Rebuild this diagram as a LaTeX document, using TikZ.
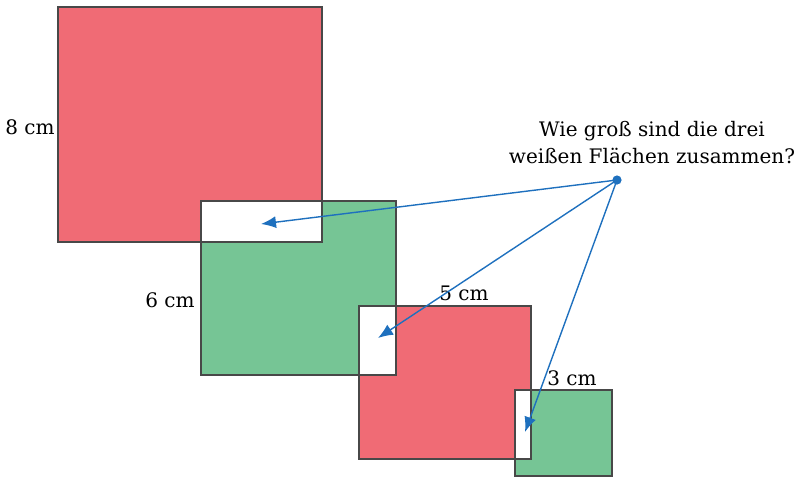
\documentclass[tikz,border=0pt]{standalone}
\usepackage{fontspec}
\setmainfont{DejaVu Serif}
\usetikzlibrary{arrows.meta}
\definecolor{sqred}{RGB}{240,107,117}
\definecolor{sqgreen}{RGB}{118,197,149}
\definecolor{arrowblue}{RGB}{30,112,190}
\definecolor{edgegray}{RGB}{72,72,72}

\begin{document}
\begin{tikzpicture}[x=0.5pt,y=-0.5pt,
  square/.style={draw=edgegray,line width=1pt},
  pointer/.style={arrowblue,line width=0.7pt,-{Latex[length=7.5pt,width=6pt]}},
  lbl/.style={font=\fontsize{10}{13.5}\selectfont,inner sep=1pt}]
\useasboundingbox (0,0) rectangle (800,478);
% Big red square (8 cm)
\filldraw[square,fill=sqred] (58,7) rectangle (322,242);
% Green square (6 cm) and its white overlap
\filldraw[square,fill=sqgreen] (201,201) rectangle (396,375);
\filldraw[square,fill=white] (201,201) rectangle (322,242);
% Small red square (5 cm) and its white overlap
\filldraw[square,fill=sqred] (359,306) rectangle (531,459);
\filldraw[square,fill=white] (359,306) rectangle (396,375);
% Small green square (3 cm) and its white overlap
\filldraw[square,fill=sqgreen] (515,390) rectangle (612,476);
\filldraw[square,fill=white] (515,390) rectangle (531,459);
% Side lengths
\node[lbl] (eight) at (30,127) {8 cm};
\node[lbl] (six) at (170,300) {6 cm};
\node[lbl] (five) at (464,293) {5 cm};
\node[lbl] (three) at (572,378) {3 cm};
% Question
\node[lbl,align=center] (question) at (652,143) {Wie groß sind die drei\\weißen Flächen zusammen?};
% Point and arrows to the white areas
\fill[arrowblue] (617,180) circle (2.3pt) coordinate (src);
\coordinate (whiteA) at (261,224);
\coordinate (whiteB) at (378,338);
\coordinate (whiteC) at (525,432);
\foreach \t in {whiteA,whiteB,whiteC}
  \draw[pointer] (src) -- (\t);
\end{tikzpicture}
\end{document}
